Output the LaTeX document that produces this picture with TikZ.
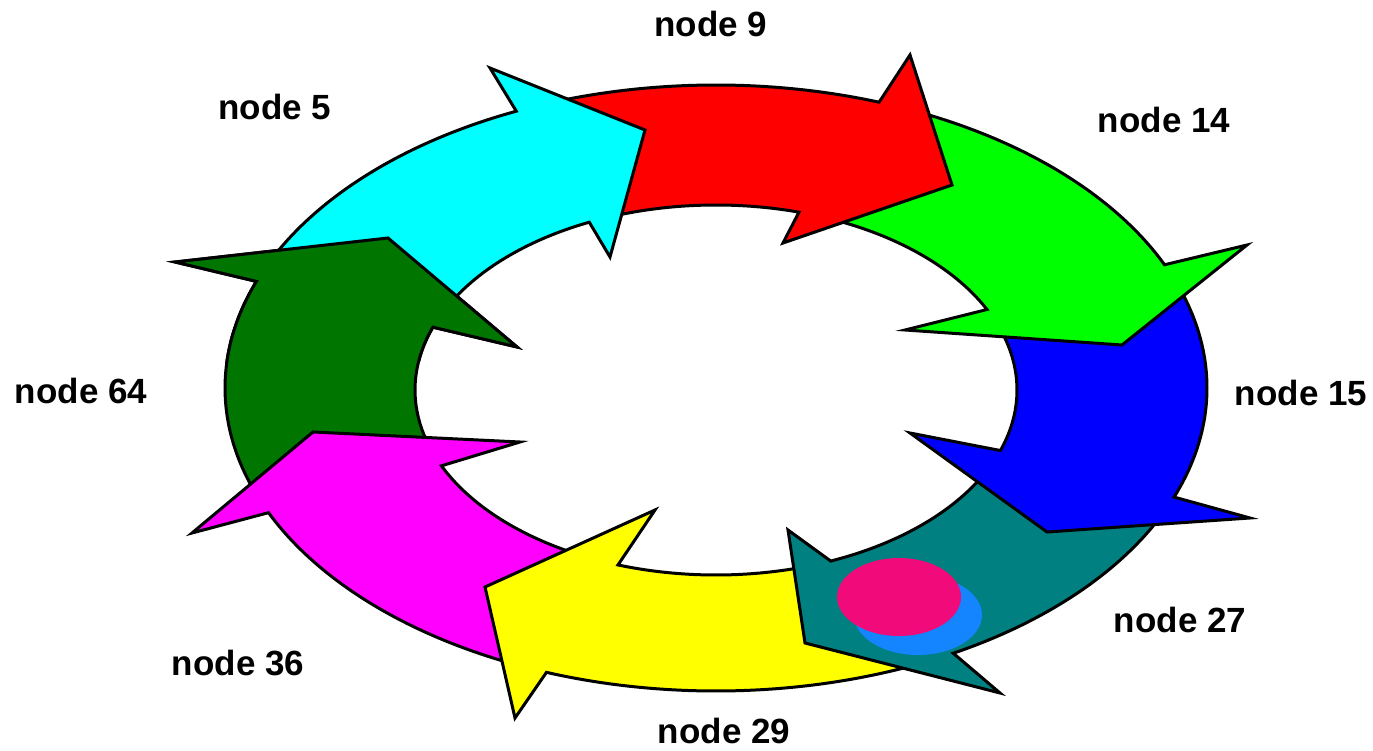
\documentclass[tikz,border=0pt]{standalone}
\usepackage{fontspec}
\setmainfont{Liberation Sans}
\usetikzlibrary{calc}
\definecolor{ccyan}{RGB}{0,255,255}
\definecolor{cred}{RGB}{255,0,0}
\definecolor{cgreen}{RGB}{0,255,0}
\definecolor{cblue}{RGB}{0,0,255}
\definecolor{cteal}{RGB}{0,128,128}
\definecolor{cyellow}{RGB}{255,255,0}
\definecolor{cmagenta}{RGB}{255,0,255}
\definecolor{cdkgreen}{RGB}{0,118,0}
\definecolor{cpink}{RGB}{240,10,122}
\definecolor{cazure}{RGB}{20,132,255}
% #1 colour, #2/#3 outer arc angles, #4 outer tip, #5 apex, #6 inner tip, #7/#8 inner arc angles
\newcommand\ringarrow[8]{%
  \path[arrowseg, fill=#1] ($(O)+(#2:491 and 303)$)
    arc[start angle=#2, end angle=#3, x radius=491, y radius=303]
    -- #4 -- #5 -- #6 -- ($(I)+(#7:301 and 185)$)
    arc[start angle=#7, end angle=#8, x radius=301, y radius=185] -- cycle;}
\newcommand\dkgreenarrow{\ringarrow{cdkgreen}{159.7}{200.6}{(175,262)}{(388,238)}{(517,347)}{199.85}{159.8}}
\begin{document}
\begin{tikzpicture}[x=1pt,y=-1pt,
  arrowseg/.style={draw=black, line width=3pt, line join=miter},
  lbl/.style={anchor=base, inner sep=0pt, text=black, font=\bfseries\fontsize{35}{40}\selectfont}]
\fill[white] (0,0) rectangle (1373,751);
\useasboundingbox (0,0) rectangle (1373,751);
\coordinate (O) at (716,388);
\coordinate (I) at (716,390);
% arrows drawn counter-clockwise, so that each head lies over the next arrow's tail
\dkgreenarrow
\ringarrow{cmagenta}{114.2}{155.7}{(192,533)}{(313,432)}{(520,442)}{155.8}{113.0}
\ringarrow{cyellow}{65.1}{110.2}{(515,718)}{(485,587)}{(655,510)}{109.0}{71.6}
\ringarrow{cteal}{25.1}{61.1}{(1000,693)}{(805,643)}{(788,530)}{67.6}{23.1}
\ringarrow{cblue}{340}{381.1}{(1250,518)}{(1047,532)}{(910,433)}{379.1}{338.2}
\ringarrow{cgreen}{293.4}{336.0}{(1247,245)}{(1122,345)}{(905,330)}{334.2}{290.0}
\ringarrow{cred}{250}{289.4}{(910,55)}{(952,185)}{(783,243)}{286.0}{249.1}
\ringarrow{ccyan}{204.6}{246.0}{(490,68)}{(645,130)}{(610,257)}{245.1}{203.85}
% the dark green head over the cyan tail
\begin{scope}
  \clip (160,222) rectangle (535,362);
  \dkgreenarrow
\end{scope}
% spots on the teal arrow
\fill[cazure] (918,615) ellipse[x radius=64, y radius=40];
\fill[cpink] (899,597) ellipse[x radius=62, y radius=39];
% labels
\node[lbl] (n9)  at (711,37)  {node 9};
\node[lbl] (n5)  at (275,120) {node 5};
\node[lbl] (n14) at (1164,133) {node 14};
\node[lbl] (n64) at (81,403)  {node 64};
\node[lbl] (n15) at (1301,405) {node 15};
\node[lbl] (n27) at (1180,632) {node 27};
\node[lbl] (n36) at (238,675) {node 36};
\node[lbl] (n29) at (724,743) {node 29};
\end{tikzpicture}
\end{document}
